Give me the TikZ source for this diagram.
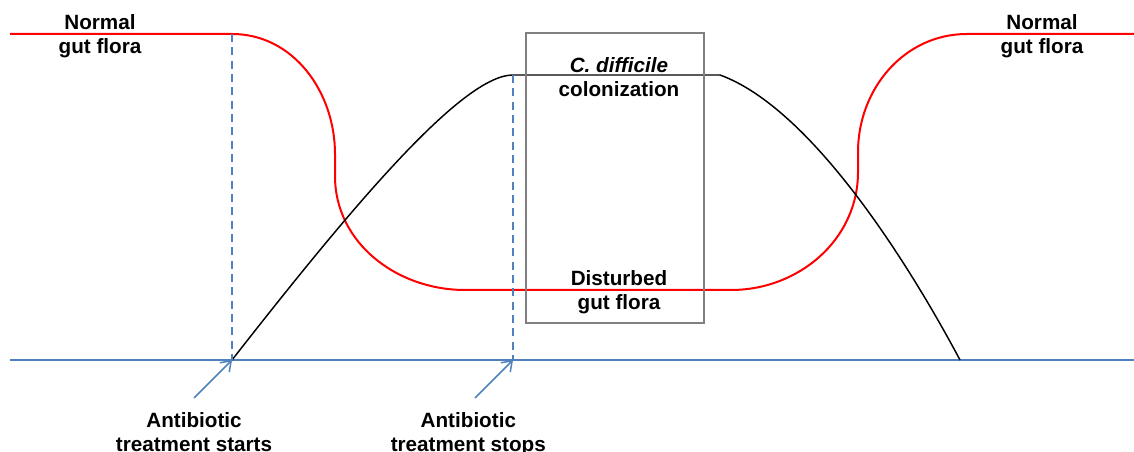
\documentclass[tikz,border=0pt]{standalone}
\usepackage{fontspec}
\setmainfont{Liberation Sans}
\usetikzlibrary{positioning,arrows.meta}
\definecolor{axisblue}{RGB}{79,129,189}
\definecolor{boxgray}{RGB}{128,128,128}

\begin{document}
\begin{tikzpicture}[x=0.75pt,y=0.75pt,
    lbl/.style={font=\bfseries\fontsize{15.5}{18}\selectfont,align=center,inner sep=0pt},
    flora/.style={red,line width=1.5pt},
    colon/.style={black,line width=1.1pt},
    frame/.style={boxgray,line width=1.5pt},
    timeline/.style={axisblue,line width=1.4pt},
    marker/.style={axisblue,line width=1.1pt,dash pattern=on 6pt off 4pt},
    pointer/.style={axisblue,line width=1.1pt,-{Straight Barb[length=7pt,width=10pt]}}]
    \useasboundingbox (0,0) rectangle (1134,452);
    % time axis
    \coordinate (a0) at (10,92);
    \coordinate (a1) at (1134,92);
    \coordinate (t0) at (232,92);
    \coordinate (t1) at (513,92);
    \coordinate (t2) at (960,92);
    \draw[timeline] (a0) -- (a1);
    % gut flora curve
    \coordinate (f0) at (10,418);
    \coordinate (f1) at (232,418);
    \coordinate (f2) at (335,298);
    \coordinate (f3) at (335,276);
    \coordinate (f4) at (465,162);
    \coordinate (f5) at (731,162);
    \coordinate (f6) at (858,280);
    \coordinate (f7) at (858,300);
    \coordinate (f8) at (967,418);
    \coordinate (f9) at (1134,418);
    \draw[flora] (f0) -- (f1) to[out=0,in=90] (f2) -- (f3) to[out=-90,in=180] (f4)
        -- (f5) to[out=0,in=-90] (f6) -- (f7) to[out=90,in=180] (f8) -- (f9);
    % colonization curve
    \coordinate (c1) at (513,377);
    \coordinate (c2) at (720,377);
    \draw[colon] (t0) .. controls +(52:200) and +(-50,0) .. (c1) -- (c2)
        .. controls +(-20:100) and +(118:100) .. (t2);
    % treatment markers
    \draw[marker] (f1) -- (t0);
    \draw[marker] (c1) -- (t1);
    % box
    \coordinate (b0) at (526,129);
    \coordinate (b1) at (704,419);
    \draw[frame] (b0) rectangle (b1);
    % labels
    \node[lbl] (normalL) at (100,415.5) {Normal\\gut flora};
    \node[lbl] (normalR) at (1042,415.5) {Normal\\gut flora};
    \node[lbl] (cdiff) at (619,374.5) {\textit{C. difficile}\\colonization};
    \node[lbl] (disturbed) at (619,159.5) {Disturbed\\gut flora};
    \coordinate (s0) at (194,54);
    \coordinate (s1) at (475,54);
    \node[lbl] (startlbl) [below=11pt of s0] {Antibiotic\\treatment starts};
    \node[lbl] (stoplbl) [below=11pt of s1,xshift=-5pt] {Antibiotic\\treatment stops};
    \draw[pointer] (s0) -- (t0);
    \draw[pointer] (s1) -- (t1);
\end{tikzpicture}
\end{document}
